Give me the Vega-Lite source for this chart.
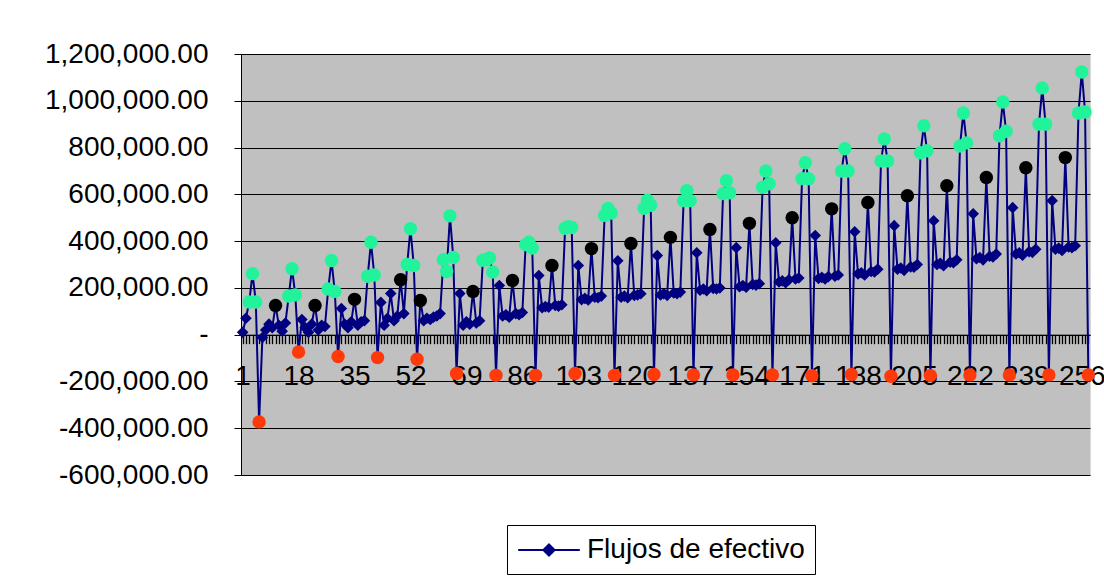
{
  "$schema": "https://vega.github.io/schema/vega-lite/v6.json",
  "width": 849,
  "height": 421,
  "autosize": {"type": "none"},
  "padding": {"left": 241, "top": 54, "right": 14, "bottom": 104},
  "background": "#ffffff",
  "data": {"values": [
    {"t":1,"v":10000,"m":"azul"},{"t":2,"v":70000,"m":"azul"},{"t":3,"v":140000,"m":"verde"},{"t":4,"v":261000,"m":"verde"},{"t":5,"v":140000,"m":"verde"},{"t":6,"v":-373000,"m":"rojo"},
    {"t":7,"v":-12000,"m":"azul"},{"t":8,"v":20000,"m":"azul"},{"t":9,"v":45000,"m":"azul"},{"t":10,"v":30000,"m":"azul"},{"t":11,"v":125000,"m":"negro"},{"t":12,"v":40000,"m":"azul"},{"t":13,"v":15000,"m":"azul"},{"t":14,"v":50000,"m":"azul"},{"t":15,"v":165000,"m":"verde"},{"t":16,"v":282000,"m":"verde"},{"t":17,"v":170000,"m":"verde"},{"t":18,"v":-74000,"m":"rojo"},
    {"t":19,"v":65000,"m":"azul"},{"t":20,"v":30000,"m":"azul"},{"t":21,"v":10000,"m":"azul"},{"t":22,"v":45000,"m":"azul"},{"t":23,"v":125000,"m":"negro"},{"t":24,"v":20000,"m":"azul"},{"t":25,"v":40000,"m":"azul"},{"t":26,"v":35000,"m":"azul"},{"t":27,"v":195000,"m":"verde"},{"t":28,"v":317000,"m":"verde"},{"t":29,"v":185000,"m":"verde"},{"t":30,"v":-93000,"m":"rojo"},
    {"t":31,"v":112000,"m":"azul"},{"t":32,"v":45000,"m":"azul"},{"t":33,"v":30000,"m":"azul"},{"t":34,"v":55000,"m":"azul"},{"t":35,"v":151000,"m":"negro"},{"t":36,"v":40000,"m":"azul"},{"t":37,"v":55000,"m":"azul"},{"t":38,"v":60000,"m":"azul"},{"t":39,"v":250000,"m":"verde"},{"t":40,"v":395000,"m":"verde"},{"t":41,"v":255000,"m":"verde"},{"t":42,"v":-98000,"m":"rojo"},
    {"t":43,"v":138000,"m":"azul"},{"t":44,"v":40000,"m":"azul"},{"t":45,"v":70000,"m":"azul"},{"t":46,"v":176000,"m":"azul"},{"t":47,"v":60000,"m":"azul"},{"t":48,"v":80000,"m":"azul"},{"t":49,"v":235000,"m":"negro"},{"t":50,"v":90000,"m":"azul"},{"t":51,"v":300000,"m":"verde"},{"t":52,"v":453000,"m":"verde"},{"t":53,"v":296000,"m":"verde"},{"t":54,"v":-105000,"m":"rojo"},
    {"t":55,"v":146000,"m":"negro"},{"t":56,"v":60000,"m":"azul"},{"t":57,"v":70000,"m":"azul"},{"t":58,"v":65000,"m":"azul"},{"t":59,"v":75000,"m":"azul"},{"t":60,"v":80000,"m":"azul"},{"t":61,"v":90000,"m":"azul"},{"t":62,"v":320000,"m":"verde"},{"t":63,"v":270000,"m":"verde"},{"t":64,"v":508000,"m":"verde"},{"t":65,"v":330000,"m":"verde"},{"t":66,"v":-166000,"m":"rojo"},
    {"t":67,"v":176000,"m":"azul"},{"t":68,"v":40000,"m":"azul"},{"t":69,"v":55000,"m":"azul"},{"t":70,"v":45000,"m":"azul"},{"t":71,"v":185000,"m":"negro"},{"t":72,"v":50000,"m":"azul"},{"t":73,"v":60000,"m":"azul"},{"t":74,"v":318000,"m":"verde"},{"t":75,"v":320000,"m":"verde"},{"t":76,"v":328000,"m":"verde"},{"t":77,"v":268000,"m":"verde"},{"t":78,"v":-174000,"m":"rojo"},
    {"t":79,"v":210000,"m":"azul"},{"t":80,"v":80000,"m":"azul"},{"t":81,"v":85000,"m":"azul"},{"t":82,"v":75000,"m":"azul"},{"t":83,"v":232000,"m":"negro"},{"t":84,"v":90000,"m":"azul"},{"t":85,"v":85000,"m":"azul"},{"t":86,"v":95000,"m":"azul"},{"t":87,"v":385000,"m":"verde"},{"t":88,"v":395000,"m":"verde"},{"t":89,"v":370000,"m":"verde"},{"t":90,"v":-174000,"m":"rojo"},
    {"t":91,"v":253000,"m":"azul"},{"t":92,"v":115000,"m":"azul"},{"t":93,"v":120000,"m":"azul"},{"t":94,"v":118000,"m":"azul"},{"t":95,"v":296000,"m":"negro"},{"t":96,"v":125000,"m":"azul"},{"t":97,"v":122000,"m":"azul"},{"t":98,"v":128000,"m":"azul"},{"t":99,"v":455000,"m":"verde"},{"t":100,"v":462000,"m":"verde"},{"t":101,"v":458000,"m":"verde"},{"t":102,"v":-166000,"m":"rojo"},
    {"t":103,"v":296000,"m":"azul"},{"t":104,"v":150000,"m":"azul"},{"t":105,"v":155000,"m":"azul"},{"t":106,"v":148000,"m":"azul"},{"t":107,"v":368000,"m":"negro"},{"t":108,"v":160000,"m":"azul"},{"t":109,"v":158000,"m":"azul"},{"t":110,"v":165000,"m":"azul"},{"t":111,"v":510000,"m":"verde"},{"t":112,"v":540000,"m":"verde"},{"t":113,"v":520000,"m":"verde"},{"t":114,"v":-174000,"m":"rojo"},
    {"t":115,"v":316000,"m":"azul"},{"t":116,"v":160000,"m":"azul"},{"t":117,"v":165000,"m":"azul"},{"t":118,"v":158000,"m":"azul"},{"t":119,"v":390000,"m":"negro"},{"t":120,"v":168000,"m":"azul"},{"t":121,"v":170000,"m":"azul"},{"t":122,"v":175000,"m":"azul"},{"t":123,"v":540000,"m":"verde"},{"t":124,"v":575000,"m":"verde"},{"t":125,"v":553000,"m":"verde"},{"t":126,"v":-170000,"m":"rojo"},
    {"t":127,"v":338000,"m":"azul"},{"t":128,"v":170000,"m":"azul"},{"t":129,"v":175000,"m":"azul"},{"t":130,"v":168000,"m":"azul"},{"t":131,"v":416000,"m":"negro"},{"t":132,"v":178000,"m":"azul"},{"t":133,"v":175000,"m":"azul"},{"t":134,"v":182000,"m":"azul"},{"t":135,"v":573000,"m":"verde"},{"t":136,"v":616000,"m":"verde"},{"t":137,"v":573000,"m":"verde"},{"t":138,"v":-172000,"m":"rojo"},
    {"t":139,"v":350000,"m":"azul"},{"t":140,"v":190000,"m":"azul"},{"t":141,"v":195000,"m":"azul"},{"t":142,"v":188000,"m":"azul"},{"t":143,"v":450000,"m":"negro"},{"t":144,"v":198000,"m":"azul"},{"t":145,"v":195000,"m":"azul"},{"t":146,"v":200000,"m":"azul"},{"t":147,"v":603000,"m":"verde"},{"t":148,"v":658000,"m":"verde"},{"t":149,"v":607000,"m":"verde"},{"t":150,"v":-172000,"m":"rojo"},
    {"t":151,"v":372000,"m":"azul"},{"t":152,"v":205000,"m":"azul"},{"t":153,"v":210000,"m":"azul"},{"t":154,"v":203000,"m":"azul"},{"t":155,"v":476000,"m":"negro"},{"t":156,"v":215000,"m":"azul"},{"t":157,"v":212000,"m":"azul"},{"t":158,"v":218000,"m":"azul"},{"t":159,"v":630000,"m":"verde"},{"t":160,"v":700000,"m":"verde"},{"t":161,"v":645000,"m":"verde"},{"t":162,"v":-172000,"m":"rojo"},
    {"t":163,"v":393000,"m":"azul"},{"t":164,"v":225000,"m":"azul"},{"t":165,"v":230000,"m":"azul"},{"t":166,"v":222000,"m":"azul"},{"t":167,"v":235000,"m":"azul"},{"t":168,"v":500000,"m":"negro"},{"t":169,"v":238000,"m":"azul"},{"t":170,"v":242000,"m":"azul"},{"t":171,"v":667000,"m":"verde"},{"t":172,"v":735000,"m":"verde"},{"t":173,"v":667000,"m":"verde"},{"t":174,"v":-176000,"m":"rojo"},
    {"t":175,"v":424000,"m":"azul"},{"t":176,"v":240000,"m":"azul"},{"t":177,"v":245000,"m":"azul"},{"t":178,"v":238000,"m":"azul"},{"t":179,"v":248000,"m":"azul"},{"t":180,"v":538000,"m":"negro"},{"t":181,"v":250000,"m":"azul"},{"t":182,"v":255000,"m":"azul"},{"t":183,"v":700000,"m":"verde"},{"t":184,"v":795000,"m":"verde"},{"t":185,"v":700000,"m":"verde"},{"t":186,"v":-170000,"m":"rojo"},
    {"t":187,"v":440000,"m":"azul"},{"t":188,"v":260000,"m":"azul"},{"t":189,"v":265000,"m":"azul"},{"t":190,"v":255000,"m":"azul"},{"t":191,"v":565000,"m":"negro"},{"t":192,"v":270000,"m":"azul"},{"t":193,"v":268000,"m":"azul"},{"t":194,"v":280000,"m":"azul"},{"t":195,"v":743000,"m":"verde"},{"t":196,"v":837000,"m":"verde"},{"t":197,"v":743000,"m":"verde"},{"t":198,"v":-178000,"m":"rojo"},
    {"t":199,"v":466000,"m":"azul"},{"t":200,"v":280000,"m":"azul"},{"t":201,"v":285000,"m":"azul"},{"t":202,"v":275000,"m":"azul"},{"t":203,"v":594000,"m":"negro"},{"t":204,"v":290000,"m":"azul"},{"t":205,"v":288000,"m":"azul"},{"t":206,"v":300000,"m":"azul"},{"t":207,"v":778000,"m":"verde"},{"t":208,"v":893000,"m":"verde"},{"t":209,"v":786000,"m":"verde"},{"t":210,"v":-175000,"m":"rojo"},
    {"t":211,"v":487000,"m":"azul"},{"t":212,"v":300000,"m":"azul"},{"t":213,"v":305000,"m":"azul"},{"t":214,"v":295000,"m":"azul"},{"t":215,"v":637000,"m":"negro"},{"t":216,"v":310000,"m":"azul"},{"t":217,"v":308000,"m":"azul"},{"t":218,"v":320000,"m":"azul"},{"t":219,"v":807000,"m":"verde"},{"t":220,"v":948000,"m":"verde"},{"t":221,"v":820000,"m":"verde"},{"t":222,"v":-172000,"m":"rojo"},
    {"t":223,"v":517000,"m":"azul"},{"t":224,"v":325000,"m":"azul"},{"t":225,"v":330000,"m":"azul"},{"t":226,"v":320000,"m":"azul"},{"t":227,"v":672000,"m":"negro"},{"t":228,"v":335000,"m":"azul"},{"t":229,"v":332000,"m":"azul"},{"t":230,"v":345000,"m":"azul"},{"t":231,"v":850000,"m":"verde"},{"t":232,"v":995000,"m":"verde"},{"t":233,"v":870000,"m":"verde"},{"t":234,"v":-172000,"m":"rojo"},
    {"t":235,"v":543000,"m":"azul"},{"t":236,"v":345000,"m":"azul"},{"t":237,"v":350000,"m":"azul"},{"t":238,"v":340000,"m":"azul"},{"t":239,"v":714000,"m":"negro"},{"t":240,"v":355000,"m":"azul"},{"t":241,"v":352000,"m":"azul"},{"t":242,"v":365000,"m":"azul"},{"t":243,"v":900000,"m":"verde"},{"t":244,"v":1055000,"m":"verde"},{"t":245,"v":900000,"m":"verde"},{"t":246,"v":-172000,"m":"rojo"},
    {"t":247,"v":573000,"m":"azul"},{"t":248,"v":365000,"m":"azul"},{"t":249,"v":370000,"m":"azul"},{"t":250,"v":360000,"m":"azul"},{"t":251,"v":757000,"m":"negro"},{"t":252,"v":375000,"m":"azul"},{"t":253,"v":372000,"m":"azul"},{"t":254,"v":380000,"m":"azul"},{"t":255,"v":948000,"m":"verde"},{"t":256,"v":1123000,"m":"verde"},{"t":257,"v":952000,"m":"verde"},{"t":258,"v":-172000,"m":"rojo"}
  ]},
  "encoding": {
    "x": {
      "field": "t", "type": "quantitative",
      "scale": {"domain": [0.5, 258.5], "nice": false, "zero": false},
      "axis": {
        "title": null, "orient": "bottom", "offset": -140.33,
        "tickCount": 258, "tickMinStep": 1,
        "labelExpr": "(datum.value - 1) % 17 == 0 ? datum.label : ''",
        "labelOverlap": false, "labelFlush": false, "labelBound": false,
        "grid": false, "domainColor": "#000000", "domainWidth": 1,
        "tickColor": "#000000", "tickSize": 9, "tickWidth": 1.3,
        "labelPadding": 19, "labelFontSize": 28, "labelFont": "Liberation Sans",
        "labelColor": "#000000", "zindex": 0
      }
    },
    "y": {
      "field": "v", "type": "quantitative",
      "scale": {"domain": [-600000, 1200000], "nice": false, "zero": false},
      "axis": {
        "title": null,
        "values": [-600000, -400000, -200000, 0, 200000, 400000, 600000, 800000, 1000000, 1200000],
        "labelExpr": "datum.value == 0 ? '-\u00a0\u00a0\u00a0\u00a0' : (datum.value < 0 ? '-' : '') + format(abs(datum.value), ',.2f')",
        "grid": true, "gridColor": "#000000", "gridOpacity": 1, "gridWidth": 1,
        "domainColor": "#000000", "domainWidth": 1,
        "tickColor": "#000000", "tickSize": 7, "tickWidth": 1,
        "labelPadding": 26, "labelFontSize": 28, "labelFont": "Liberation Sans",
        "labelColor": "#000000", "labelOverlap": false, "zindex": 0
      }
    }
  },
  "layer": [
    {
      "mark": {"type": "line", "strokeWidth": 2},
      "encoding": {
        "color": {
          "datum": "Flujos de efectivo",
          "scale": {"range": ["#000080"]},
          "legend": {
            "title": null, "orient": "none", "legendX": 266, "legendY": 471,
            "symbolType": "M-2.2,0L2.2,0M0,-0.4L0.4,0L0,0.4L-0.4,0Z",
            "symbolSize": 784, "symbolStrokeWidth": 2, "symbolOffset": 17,
            "symbolFillColor": "#000080", "symbolStrokeColor": "#000080",
            "labelFontSize": 28, "labelFont": "Liberation Sans", "labelColor": "#000000",
            "labelOffset": 23, "labelLimit": 500,
            "padding": 10, "strokeColor": "#000000", "fillColor": "#ffffff",
            "encode": {"symbols": {"update": {"fill": {"value": "#000080"}, "stroke": {"value": "#000080"}, "strokeWidth": {"value": 2}, "opacity": {"value": 1}}}}
          }
        }
      }
    },
    {
      "transform": [{"filter": "datum.m == 'azul'"}],
      "mark": {"type": "point", "shape": "diamond", "filled": true, "color": "#000080", "size": 135, "opacity": 1}
    },
    {
      "transform": [{"filter": "datum.m != 'azul'"}],
      "mark": {"type": "circle", "size": 180, "opacity": 1, "strokeWidth": 0},
      "encoding": {
        "fill": {
          "field": "m", "type": "nominal",
          "scale": {"domain": ["verde", "negro", "rojo"], "range": ["#21F39A", "#000000", "#FF3A0A"]},
          "legend": null
        }
      }
    }
  ],
  "config": {
    "view": {"fill": "#C0C0C0", "stroke": "#D9D9D9", "strokeWidth": 1}
  }
}
